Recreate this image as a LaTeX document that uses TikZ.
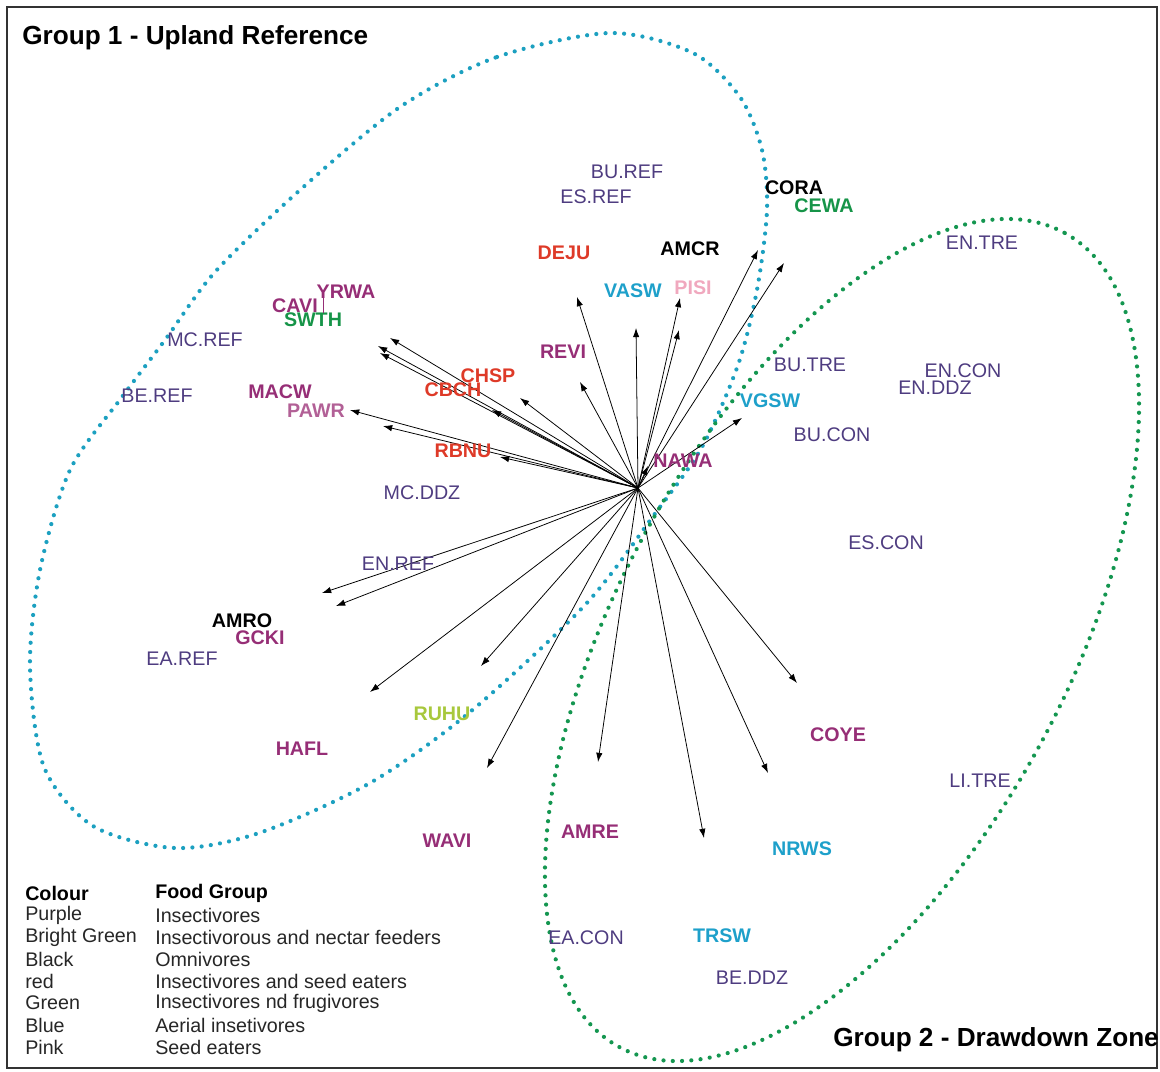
\documentclass[tikz,border=0pt]{standalone}
\usepackage{fontspec}
\setmainfont{Liberation Sans}
\usetikzlibrary{arrows.meta}

\definecolor{sitecol}{RGB}{78,60,128}
\definecolor{insect}{RGB}{150,46,118}
\definecolor{paler}{RGB}{178,96,150}
\definecolor{seedy}{RGB}{222,58,40}
\definecolor{fruity}{RGB}{22,148,72}
\definecolor{aerial}{RGB}{30,160,202}
\definecolor{pinky}{RGB}{240,168,190}
\definecolor{nectar}{RGB}{168,200,60}
\definecolor{upland}{RGB}{28,160,192}
\definecolor{drawdown}{RGB}{20,150,80}

\tikzset{
  site/.style={text=sitecol, font=\fontsize{14}{16}\selectfont, inner sep=0pt},
  bird/.style={font=\fontsize{14}{16}\selectfont\bfseries, inner sep=0pt},
  vec/.style={-{Latex[length=2.3mm,width=1.6mm]}, line width=0.55pt},
  grp/.style={line width=3pt, line cap=round, dash pattern=on 0pt off 6.6pt},
  legend/.style={anchor=west, font=\fontsize{14}{16}\selectfont, text=black!85, inner sep=0pt},
}

\begin{document}
\begin{tikzpicture}[x=0.025cm,y=-0.025cm]
\useasboundingbox (0,0) rectangle (1160,1072);
\draw[black!80, line width=1pt] (7,7) rectangle (1157,1068);

% groups
\draw[grp, upland] plot[smooth cycle] coordinates {(400,107) (497,57) (610,33) (693,53)
  (740,97) (762,150) (767,210) (757,290) (738,365) (702,447) (654,515) (585,605) (470,712)
  (370,783) (259,833) (175,848) (93,826) (44,767) (30,667) (40,570) (70,470) (122,397)
  (165,340) (215,272) (300,190)};
\draw[grp, drawdown, rotate around={61.3:(842,640)}] (842,640) ellipse [x radius=464, y radius=224];

\node[anchor=west, font=\fontsize{18.6}{20}\selectfont\bfseries, inner sep=0pt] (grp1) at (22,38) {Group 1 - Upland Reference};
\node[anchor=west, font=\fontsize{18.6}{20}\selectfont\bfseries, inner sep=0pt] (grp2) at (833,1040) {Group 2 - Drawdown Zone};

% species vectors
\coordinate (o) at (638,488);
\foreach \n/\x/\y in {ul1/390/338, ul2/378/346, ul3/380/353, ul4/492/410, ul5/520/398,
  ul6/350/410, ul7/383/426, ul8/500/457,
  up1/577/297, up2/580/382, up3/636/328, up4/680/298, up5/679/330, up6/758/250,
  up7/784/263, up8/742/418, up9/648/466,
  lo1/322/593, lo2/336/606, lo3/370/692, lo4/481/666, lo5/487/768, lo6/598/762,
  lo7/704/838, lo8/768/773, lo9/797/683}
{
  \coordinate (\n) at (\x,\y);
  \draw[vec] (o) -- (\n);
}

% sites
\node[site] (buref) at (627,172) {BU.REF};
\node[site] (esref) at (596,197) {ES.REF};
\node[site] (entre) at (982,243) {EN.TRE};
\node[site] (mcref) at (205,340) {MC.REF};
\node[site] (beref) at (157,396) {BE.REF};
\node[site] (butre) at (810,365) {BU.TRE};
\node[site] (encon) at (963,371) {EN.CON};
\node[site] (enddz) at (935,388) {EN.DDZ};
\node[site] (bucon) at (832,435) {BU.CON};
\node[site] (mcddz) at (422,493) {MC.DDZ};
\node[site] (escon) at (886,543) {ES.CON};
\node[site] (enref) at (398,564) {EN.REF};
\node[site] (earef) at (182,659) {EA.REF};
\node[site] (litre) at (980,781) {LI.TRE};
\node[site] (eacon) at (586,938) {EA.CON};
\node[site] (beddz) at (752,978) {BE.DDZ};

% species
\node[bird, text=black] (cora) at (794,188) {CORA};
\node[bird, text=fruity] (cewa) at (824,206) {CEWA};
\node[bird, text=seedy] (deju) at (564,253) {DEJU};
\node[bird, text=black] (amcr) at (690,249) {AMCR};
\node[bird, text=aerial] (vasw) at (633,291) {VASW};
\node[bird, text=pinky] (pisi) at (693,288) {PISI};
\node[bird, text=insect] (yrwa) at (346,292) {YRWA};
\node[bird, text=insect] (cavi) at (295,306) {CAVI};
\node[bird, text=fruity] (swth) at (313,320) {SWTH};
\node[bird, text=insect] (revi) at (563,352) {REVI};
\node[bird, text=insect] (macw) at (280,392) {MACW};
\node[bird, text=seedy] (chsp) at (488,376) {CHSP};
\node[bird, text=seedy] (cbch) at (453,390) {CBCH};
\node[bird, text=paler] (pawr) at (316,411) {PAWR};
\node[bird, text=aerial] (vgsw) at (770,401) {VGSW};
\node[bird, text=seedy] (rbnu) at (463,451) {RBNU};
\node[bird, text=insect] (nawa) at (683,461) {NAWA};
\node[bird, text=black] (amro) at (242,621) {AMRO};
\node[bird, text=insect] (gcki) at (260,638) {GCKI};
\node[bird, text=nectar] (ruhu) at (442,714) {RUHU};
\node[bird, text=insect] (hafl) at (302,749) {HAFL};
\node[bird, text=insect] (coye) at (838,735) {COYE};
\node[bird, text=insect] (amre) at (590,832) {AMRE};
\node[bird, text=insect] (wavi) at (447,841) {WAVI};
\node[bird, text=aerial] (nrws) at (802,849) {NRWS};
\node[bird, text=aerial] (trsw) at (722,936) {TRSW};
\draw[insect, line width=0.9pt] ([xshift=4]cavi.south east) -- ([xshift=4]cavi.south east |- yrwa.center);

% legend
\node[legend, font=\fontsize{14}{16}\selectfont\bfseries, text=black] (colhead) at (25,893) {Colour};
\node[legend, font=\fontsize{14}{16}\selectfont\bfseries, text=black] (foodhead) at (155,893) {Food Group};
\foreach \c/\f [count=\i] in {Purple/Insectivores, Bright Green/Insectivorous and nectar feeders,
  Black/Omnivores, red/Insectivores and seed eaters, Green/Insectivores nd frugivores,
  Blue/Aerial insetivores, Pink/Seed eaters}
{
  \node[legend] (col\i) at (25,893+22*\i) {\c};
  \node[legend] (food\i) at (155,893+22*\i) {\f};
}

\end{tikzpicture}
\end{document}
